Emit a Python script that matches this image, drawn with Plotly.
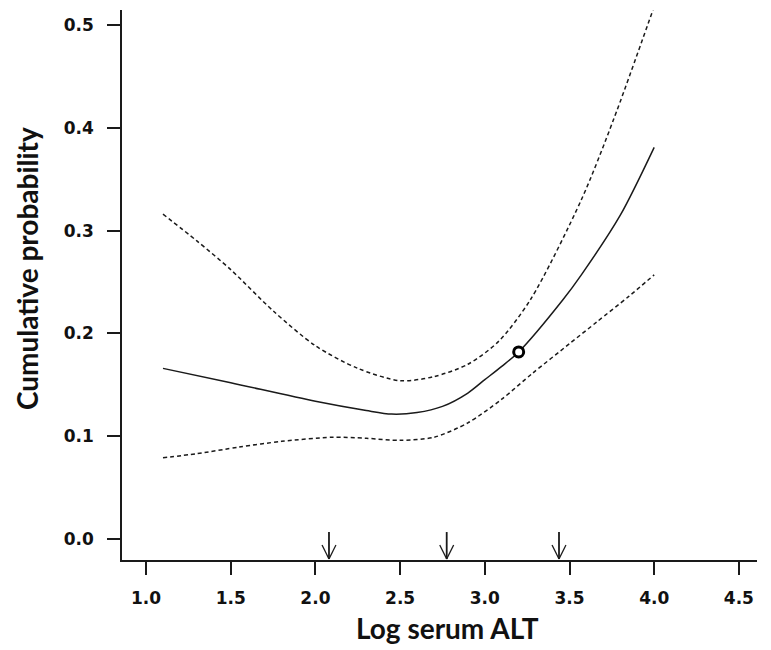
import plotly.graph_objects as go

# Fitted curve (solid) and confidence band (dashed)
fit_x = [1.10, 1.50, 2.00, 2.30, 2.45, 2.60, 2.75, 2.90, 3.00, 3.10, 3.20, 3.46, 3.57, 3.80, 4.00]
fit_y = [0.166, 0.152, 0.134, 0.125, 0.1215, 0.123, 0.129, 0.142, 0.155, 0.168, 0.182, 0.2325, 0.257, 0.315, 0.381]

upper_x = [1.10, 1.30, 1.50, 1.75, 2.00, 2.25, 2.50, 2.70, 2.90, 3.08, 3.27, 3.57, 3.76, 4.00]
upper_y = [0.316, 0.290, 0.262, 0.222, 0.188, 0.166, 0.154, 0.158, 0.170, 0.192, 0.233, 0.330, 0.408, 0.518]

lower_x = [1.10, 1.30, 1.55, 1.80, 2.10, 2.30, 2.50, 2.70, 2.90, 3.10, 3.28, 3.50, 3.66, 3.85, 4.00]
lower_y = [0.079, 0.083, 0.0895, 0.095, 0.099, 0.098, 0.096, 0.099, 0.113, 0.136, 0.161, 0.190, 0.211, 0.236, 0.257]

# Highlighted point
point_x = [3.20]
point_y = [0.182]

# Knot positions marked by arrows on the x axis
knots = [2.08, 2.775, 3.438]

x_ticks = [1.0, 1.5, 2.0, 2.5, 3.0, 3.5, 4.0, 4.5]
x_tick_labels = ["1.0", "1.5", "2.0", "2.5", "3.0", "3.5", "4.0", "4.5"]
y_ticks = [0.0, 0.1, 0.2, 0.3, 0.4, 0.5]
y_tick_labels = ["0.0", "0.1", "0.2", "0.3", "0.4", "0.5"]

line_color = "#1a1a1a"

fig = go.Figure()
fig.add_trace(go.Scatter(x=upper_x, y=upper_y, mode="lines",
                         line=dict(color=line_color, width=1.5, dash="4px,3px", shape="spline", smoothing=0.8),
                         hoverinfo="skip", showlegend=False))
fig.add_trace(go.Scatter(x=lower_x, y=lower_y, mode="lines",
                         line=dict(color=line_color, width=1.5, dash="4px,3px", shape="spline", smoothing=0.8),
                         hoverinfo="skip", showlegend=False))
fig.add_trace(go.Scatter(x=fit_x, y=fit_y, mode="lines",
                         line=dict(color=line_color, width=1.5, shape="spline", smoothing=0.8),
                         hoverinfo="skip", showlegend=False))
fig.add_trace(go.Scatter(x=point_x, y=point_y, mode="markers",
                         marker=dict(symbol="circle", size=10, color="white",
                                     line=dict(color="black", width=3)),
                         hoverinfo="skip", showlegend=False))

# Arrows at the knots
arrow_top = 0.0068
arrow_tip = -0.0195
arm_top = -0.0058
arm_dx = 0.041
for k in knots:
    fig.add_shape(type="line", xref="x", yref="y", x0=k, x1=k, y0=arrow_top, y1=arrow_tip,
                  line=dict(color=line_color, width=1.8))
    fig.add_shape(type="line", xref="x", yref="y", x0=k - arm_dx, x1=k, y0=arm_top, y1=arrow_tip,
                  line=dict(color=line_color, width=1.3))
    fig.add_shape(type="line", xref="x", yref="y", x0=k + arm_dx, x1=k, y0=arm_top, y1=arrow_tip,
                  line=dict(color=line_color, width=1.3))

tick_font = dict(family="DejaVu Sans", size=17, color="#111111", weight="bold")
title_font = dict(family="Lato", size=28, color="#111111", weight="bold")

fig.update_layout(
    width=763, height=642,
    margin=dict(l=114, r=14, t=2, b=90),
    paper_bgcolor="white", plot_bgcolor="white",
    showlegend=False,
    xaxis=dict(range=[0.858, 4.607], tickvals=x_ticks, ticktext=x_tick_labels,
               showgrid=False, zeroline=False, showline=True, linecolor=line_color, linewidth=1.5,
               ticks="outside", ticklen=13, tickwidth=1.5, tickcolor=line_color,
               tickfont=tick_font, ticklabelstandoff=9),
    yaxis=dict(range=[-0.0204, 0.5146], tickvals=y_ticks, ticktext=y_tick_labels,
               showgrid=False, zeroline=False, showline=True, linecolor=line_color, linewidth=1.5,
               ticks="outside", ticklen=13, tickwidth=1.5, tickcolor=line_color,
               tickfont=tick_font, ticklabelstandoff=10),
    annotations=[
        dict(text="Log serum ALT", xref="paper", yref="paper", x=0.513, y=-0.1236,
             xanchor="center", yanchor="middle", showarrow=False, font=title_font),
        dict(text="Cumulative probability", xref="paper", yref="paper", x=-0.1496, y=0.529,
             xanchor="center", yanchor="middle", textangle=-90, showarrow=False, font=title_font),
    ],
)

fig.write_html("out.html")
